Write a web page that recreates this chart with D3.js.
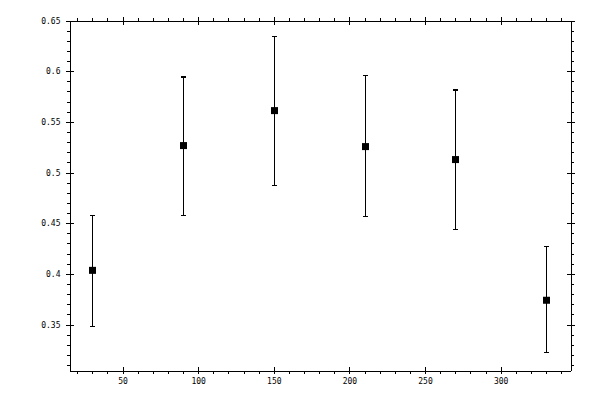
<!DOCTYPE html>
<html>
<head>
<meta charset="utf-8">
<script src="https://cdn.jsdelivr.net/npm/d3@7"></script>
<style>
  html, body { margin: 0; padding: 0; background: #fff; }
  svg { display: block; }
  .ax text { font-family: "DejaVu Sans Mono", monospace; font-size: 8px; fill: #000; }
  .ax path, .ax line { stroke: #000; stroke-width: 1; shape-rendering: crispEdges; }
</style>
</head>
<body>
<script>
// Data
const xs = [30, 90, 150, 210, 270, 330];
const means = [0.4035, 0.5266, 0.5611, 0.5256, 0.5128, 0.374];
const upper = [0.4577, 0.5942, 0.6346, 0.5955, 0.5814, 0.4268];
const lower = [0.3478, 0.4577, 0.4872, 0.457, 0.4439, 0.3221];
const xMajorTicks = [50, 100, 150, 200, 250, 300];
const xMinorTicks = d3.range(20, 341, 10).filter(v => v % 50 !== 0);
const yMajorTicks = [0.35, 0.4, 0.45, 0.5, 0.55, 0.6, 0.65];
const yMinorTicks = d3.range(31, 65).filter(v => v % 5 !== 0).map(v => v / 100);
const yTickLabels = ["0.35", "0.4", "0.45", "0.5", "0.55", "0.6", "0.65"];

const W = 600, H = 400;
const L = 69.5, R = 570.5, T = 20.5, B = 370.5;

const svg = d3.select("body").append("svg").attr("width", W).attr("height", H);

const x = d3.scaleLinear().domain([14.9, 346.2]).range([L, R]);
const y = d3.scaleLinear().domain([0.3047, 0.65]).range([B, T]);

function addAxis(gen, tx, ty) {
  return svg.append("g").attr("class", "ax").attr("transform", `translate(${tx},${ty})`).call(gen);
}
const noLab = () => "";

// Bottom
addAxis(d3.axisBottom(x).tickValues(xMajorTicks).tickSizeInner(3).tickSizeOuter(0).tickPadding(5).tickFormat(d3.format("d")), 0, B);
addAxis(d3.axisBottom(x).tickValues(xMajorTicks).tickSizeInner(-4).tickSizeOuter(0).tickFormat(noLab), 0, B);
addAxis(d3.axisBottom(x).tickValues(xMinorTicks).tickSizeInner(3).tickSizeOuter(0).tickFormat(noLab), 0, B);
// Top
addAxis(d3.axisTop(x).tickValues(xMajorTicks).tickSizeInner(4).tickSizeOuter(0).tickFormat(noLab), 0, T);
addAxis(d3.axisTop(x).tickValues(xMajorTicks).tickSizeInner(-4).tickSizeOuter(0).tickFormat(noLab), 0, T);
addAxis(d3.axisTop(x).tickValues(xMinorTicks).tickSizeInner(3).tickSizeOuter(0).tickFormat(noLab), 0, T);
// Left
addAxis(d3.axisLeft(y).tickValues(yMajorTicks).tickSizeInner(4).tickSizeOuter(0).tickPadding(5).tickFormat((d, i) => yTickLabels[i]), L, 0);
addAxis(d3.axisLeft(y).tickValues(yMajorTicks).tickSizeInner(-4).tickSizeOuter(0).tickFormat(noLab), L, 0);
addAxis(d3.axisLeft(y).tickValues(yMinorTicks).tickSizeInner(3).tickSizeOuter(0).tickFormat(noLab), L, 0);
// Right
addAxis(d3.axisRight(y).tickValues(yMajorTicks).tickSizeInner(4).tickSizeOuter(0).tickFormat(noLab), R, 0);
addAxis(d3.axisRight(y).tickValues(yMajorTicks).tickSizeInner(-4).tickSizeOuter(0).tickFormat(noLab), R, 0);
addAxis(d3.axisRight(y).tickValues(yMinorTicks).tickSizeInner(3).tickSizeOuter(0).tickFormat(noLab), R, 0);

// Error bars
const gE = svg.append("g").attr("stroke", "#000").attr("stroke-width", 1.2).attr("shape-rendering", "crispEdges");
xs.forEach((xv, i) => {
  const cx = Math.round(x(xv)) + 0.5;
  gE.append("line").attr("x1", cx).attr("x2", cx).attr("y1", y(upper[i])).attr("y2", y(lower[i]));
  gE.append("line").attr("x1", cx - 2.5).attr("x2", cx + 2.5).attr("y1", y(upper[i])).attr("y2", y(upper[i]));
  gE.append("line").attr("x1", cx - 2.5).attr("x2", cx + 2.5).attr("y1", y(lower[i])).attr("y2", y(lower[i]));
});

// Markers
svg.append("g").selectAll("rect").data(xs).join("rect")
  .attr("x", (d) => Math.round(x(d)) + 0.5 - 3.5)
  .attr("y", (d, i) => y(means[i]) - 3.5)
  .attr("width", 7).attr("height", 7)
  .attr("fill", "#000");
</script>
</body>
</html>
